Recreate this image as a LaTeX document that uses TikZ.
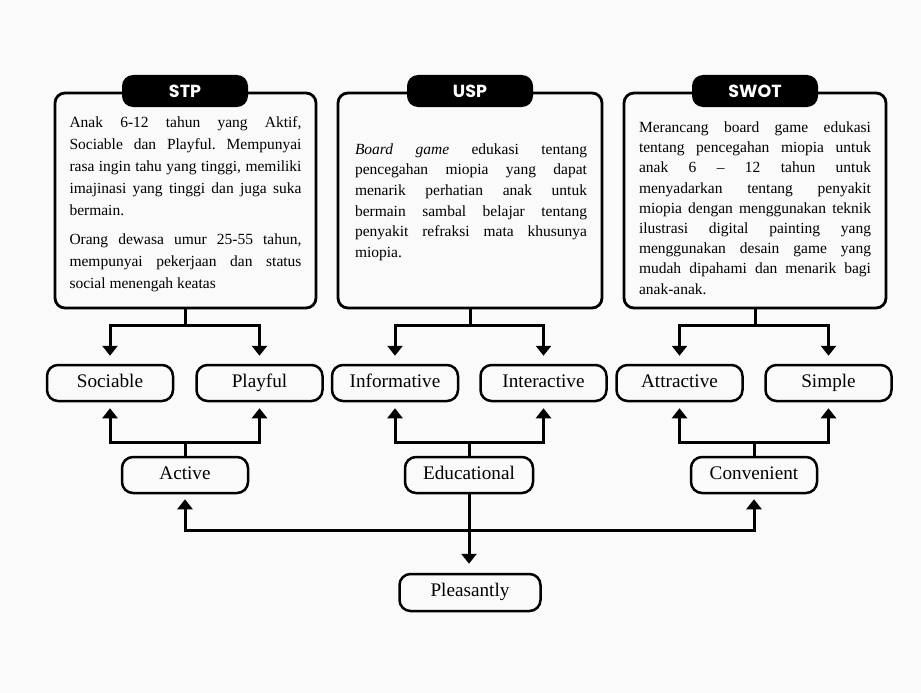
\documentclass[tikz,border=0pt]{standalone}
\usepackage{fontspec}
\setmainfont{Liberation Serif}
\newfontfamily\pillfont{Poppins}
\usetikzlibrary{arrows.meta}
\definecolor{bg}{HTML}{FAFAFA}
\newcommand\jline[2][232pt]{\hbox to #1{\frenchspacing\spaceskip=.25em plus 1fil minus .1em\relax #2}}
\newcommand\lastline[1]{\hbox{\frenchspacing #1}}
\tikzset{
  bigbox/.style={draw, line width=2.8pt, rounded corners=10pt, fill=bg, minimum width=261pt, minimum height=215pt},
  pill/.style={fill=black, text=white, rounded corners=11pt, minimum width=126pt, minimum height=32pt, inner sep=0pt, font=\pillfont\bfseries\fontsize{17.5}{18}\selectfont},
  lbl/.style={draw, line width=2.5pt, rounded corners=11pt, fill=bg, minimum width=126pt, minimum height=36pt, inner sep=0pt, text height=12.8pt, text depth=4.2pt, font=\fontsize{19.2}{21}\selectfont},
  bodytext/.style={inner sep=0pt},
  conn/.style={line width=3pt},
  arr/.style={conn, -{Triangle[width=15pt,length=10pt]}},
}
\begin{document}
\begin{tikzpicture}[x=1pt,y=-1pt]
\fill[bg] (0,0) rectangle (921,693);
\useasboundingbox (0,0) rectangle (921,693);

% big boxes
\node[bigbox] (stp) at (185.5,200.5) {};
\node[bigbox, minimum width=264pt] (usp) at (470,200.5) {};
\node[bigbox, minimum width=262pt] (swot) at (755,200.5) {};
\node[pill] (stpt) at (185,91) {STP};
\node[pill] (uspt) at (470,91) {USP};
\node[pill] (swott) at (755,91) {SWOT};

% body texts
\node[bodytext, font=\fontsize{15.5}{21.8}\selectfont] (stpx) at (185.5,204.5) {\vbox{%
\jline{Anak 6-12 tahun yang Aktif,}
\jline{Sociable dan Playful. Mempunyai}
\jline{rasa ingin tahu yang tinggi, memiliki}
\jline{imajinasi yang tinggi dan juga suka}
\lastline{bermain.}
\vskip 8pt
\jline{Orang dewasa umur 25-55 tahun,}
\jline{mempunyai pekerjaan dan status}
\lastline{social menengah keatas}}};

\node[bodytext, font=\fontsize{15.5}{20.6}\selectfont] (uspx) at (471,202) {\vbox{%
\jline{\textit{Board game} edukasi tentang}
\jline{pencegahan miopia yang dapat}
\jline{menarik perhatian anak untuk}
\jline{bermain sambal belajar tentang}
\jline{penyakit refraksi mata khusunya}
\lastline{miopia.}}};

\node[bodytext, font=\fontsize{15.5}{20.2}\selectfont] (swotx) at (755,208) {\vbox{%
\jline{Merancang board game edukasi}
\jline{tentang pencegahan miopia untuk}
\jline{anak 6 – 12 tahun untuk}
\jline{menyadarkan tentang penyakit}
\jline{miopia dengan menggunakan teknik}
\jline{ilustrasi digital painting yang}
\jline{menggunakan desain game yang}
\jline{mudah dipahami dan menarik bagi}
\lastline{anak-anak.}}};

% label boxes
\node[lbl] (soc) at (110,383) {Sociable};
\node[lbl] (ply) at (259.5,383) {Playful};
\node[lbl] (inf) at (395,383) {Informative};
\node[lbl] (int) at (543.5,383) {Interactive};
\node[lbl] (att) at (679.5,383) {Attractive};
\node[lbl] (sim) at (828.5,383) {Simple};
\node[lbl] (act) at (185,475) {Active};
\node[lbl, minimum width=128pt] (edu) at (469,475) {Educational};
\node[lbl] (con) at (754,475) {Convenient};
\node[lbl, minimum width=141pt, minimum height=37pt] (ple) at (470,592.5) {Pleasantly};

% junctions
\coordinate (j1) at (185,325);
\coordinate (j2) at (470,325);
\coordinate (j3) at (755,325);
\coordinate (k1) at (185,442);
\coordinate (k2) at (469,442);
\coordinate (k3) at (754,442);
\coordinate (m1) at (469,530);

% top-down connectors
\draw[conn] (stp.south -| j1) -- (j1);
\draw[arr, shorten >=8pt] (j1) -| (soc.north);
\draw[arr, shorten >=8pt] (j1) -| (ply.north);
\draw[conn] (usp.south -| j2) -- (j2);
\draw[arr, shorten >=8pt] (j2) -| (inf.north);
\draw[arr, shorten >=8pt] (j2) -| (int.north);
\draw[conn] (swot.south -| j3) -- (j3);
\draw[arr, shorten >=8pt] (j3) -| (att.north);
\draw[arr, shorten >=8pt] (j3) -| (sim.north);

% bottom-up connectors
\draw[conn] (act.north) -- (k1);
\draw[arr, shorten >=6pt] (k1) -| (soc.south);
\draw[arr, shorten >=6pt] (k1) -| (ply.south);
\draw[conn] (edu.north) -- (k2);
\draw[arr, shorten >=6pt] (k2) -| (inf.south);
\draw[arr, shorten >=6pt] (k2) -| (int.south);
\draw[conn] (con.north) -- (k3);
\draw[arr, shorten >=6pt] (k3) -| (att.south);
\draw[arr, shorten >=6pt] (k3) -| (sim.south);

% lowest level
\draw[conn, {Triangle[width=15pt,length=10pt]}-{Triangle[width=15pt,length=10pt]}, shorten <=5pt, shorten >=5pt] (act.south) |- (m1) -| (con.south);
\draw[arr, shorten >=9pt] (edu.south) -- (edu.south |- ple.north);
\end{tikzpicture}
\end{document}
